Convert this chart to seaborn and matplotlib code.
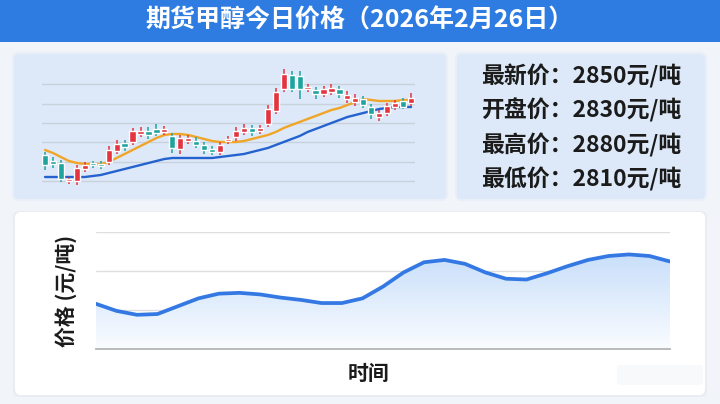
import numpy as np
import pandas as pd
import matplotlib.pyplot as plt
import seaborn as sns
from matplotlib.patches import FancyBboxPatch, Rectangle, Polygon

# 样式设置
sns.set_theme(style="white")
plt.rcParams['font.family'] = ['Noto Sans CJK SC', 'DejaVu Sans']

W, H = 720, 404

# =============================================================================
# 数据
# =============================================================================
titulo = "期货甲醇今日价格（2026年2月26日）"
info_labels = ["最新价", "开盘价", "最高价", "最低价"]
info_values = [2850, 2830, 2880, 2810]

# K线 (开, 收, 高, 低)
k_open = [2726, 2720, 2718, 2700, 2700, 2712, 2718, 2717, 2719, 2730,
          2738, 2739, 2747, 2750, 2752, 2749, 2745, 2732, 2740, 2740,
          2736, 2732, 2729, 2740, 2744, 2749, 2753, 2750, 2757, 2770,
          2792, 2806, 2805, 2792, 2791, 2787, 2789, 2792, 2782, 2779,
          2782, 2774, 2764, 2768, 2774, 2780, 2778]
k_close = [2716, 2717, 2702, 2702, 2713, 2716, 2716, 2715, 2731, 2737,
           2734, 2750, 2750, 2746, 2748, 2752, 2733, 2743, 2743, 2736,
           2731, 2729, 2736, 2742, 2750, 2753, 2749, 2753, 2772, 2789,
           2807, 2792, 2792, 2794, 2787, 2792, 2793, 2787, 2786, 2783,
           2776, 2767, 2768, 2775, 2778, 2774, 2783]
k_high = [2729, 2724, 2721, 2704, 2716, 2719, 2720, 2720, 2735, 2741,
          2741, 2753, 2754, 2754, 2757, 2755, 2748, 2746, 2746, 2744,
          2739, 2735, 2739, 2745, 2754, 2757, 2756, 2756, 2776, 2793,
          2812, 2810, 2810, 2797, 2794, 2795, 2797, 2795, 2790, 2787,
          2785, 2777, 2771, 2778, 2781, 2783, 2788]
k_low = [2711, 2713, 2699, 2697, 2696, 2709, 2713, 2712, 2716, 2727,
         2730, 2736, 2744, 2742, 2745, 2746, 2728, 2727, 2737, 2733,
         2727, 2726, 2726, 2737, 2740, 2746, 2745, 2747, 2754, 2767,
         2789, 2789, 2782, 2789, 2782, 2784, 2786, 2783, 2778, 2775,
         2773, 2762, 2760, 2765, 2771, 2772, 2775]

ma_curta = [2731, 2728, 2724, 2720, 2718, 2717, 2717, 2717, 2719, 2723,
            2727, 2731, 2735, 2739, 2743, 2746, 2747, 2747, 2746, 2744,
            2742, 2740, 2739, 2739, 2739, 2740, 2742, 2744, 2746, 2749,
            2753, 2756, 2759, 2762, 2765, 2768, 2771, 2773, 2776, 2779,
            2782, 2781, 2780, 2780, 2780, 2781, 2781]
ma_longa = [2704, 2704, 2704, 2704, 2704, 2704, 2705, 2706, 2708, 2710,
            2712, 2714, 2716, 2718, 2720, 2722, 2723, 2723, 2723, 2723,
            2723, 2723, 2724, 2725, 2726, 2727, 2729, 2731, 2733, 2736,
            2739, 2742, 2745, 2749, 2752, 2755, 2758, 2761, 2764, 2766,
            2768, 2770, 2772, 2773, 2774, 2774, 2774]

# 价格走势 (下方图)
trend_price = [2758, 2749, 2744, 2745, 2755, 2765, 2771, 2772, 2770, 2766,
               2763, 2759, 2759, 2765, 2780, 2798, 2811, 2814, 2809, 2798,
               2790, 2789, 2797, 2806, 2814, 2819, 2821, 2819, 2812]

df_k = pd.DataFrame({'idx': np.arange(1, len(k_open) + 1), 'open': k_open,
                     'close': k_close, 'high': k_high, 'low': k_low,
                     'ma5': ma_curta, 'ma20': ma_longa})
df_t = pd.DataFrame({'t': np.arange(len(trend_price)), 'preco': trend_price})

VERMELHO = '#e3343f'
VERDE = '#1fa39f'


def fx(px):
    return px / W


def fy(py):
    return 1 - py / H


fig = plt.figure(figsize=(W / 100, H / 100), dpi=100, facecolor='#f1f4f8')

# =============================================================================
# 背景: 标题栏 + 面板
# =============================================================================
bg = fig.add_axes([0, 0, 1, 1])
bg.set_xlim(0, W)
bg.set_ylim(H, 0)
bg.axis('off')
bg.add_patch(Rectangle((0, 0), W, 42, color='#2e7ce1', lw=0))
bg.add_patch(FancyBboxPatch((13, 53), 434, 147, boxstyle="round,pad=0,rounding_size=6",
                            fc='#dde9f8', ec='#e8eff8', lw=1.5))
bg.add_patch(FancyBboxPatch((456, 53), 250, 147, boxstyle="round,pad=0,rounding_size=6",
                            fc='#dde9f8', ec='#e8eff8', lw=1.5))
bg.add_patch(FancyBboxPatch((13, 211), 694, 186, boxstyle="round,pad=0,rounding_size=6",
                            fc='#e9edf2', ec='none'))
bg.add_patch(FancyBboxPatch((15, 212), 690, 183, boxstyle="round,pad=0,rounding_size=6",
                            fc='white', ec='none'))
bg.add_patch(FancyBboxPatch((617, 365), 86, 20, boxstyle="round,pad=0,rounding_size=4",
                            fc='#f8f9fa', ec='none'))

fig.text(0.5, fy(20), titulo, color='white', fontsize=18, fontweight='bold',
         ha='center', va='center')

# 右侧信息
for i, (lab, val) in enumerate(zip(info_labels, info_values)):
    fig.text(fx(481), fy(76 + 34.5 * i), f"{lab}：{val}元/吨", fontsize=16.5,
             color='#1b1b1b', ha='left', va='center', fontweight='bold')

# =============================================================================
# K线图
# =============================================================================
ax1 = fig.add_axes([fx(42), fy(190), fx(415 - 42), (190 - 60) / H])
ax1.patch.set_alpha(0)
ax1.set_xlim(0.62, 47.5)
ax1.set_ylim(2691, 2821)
ax1.set_yticks([2700, 2719, 2739, 2758, 2777, 2797])
ax1.grid(axis='y', color='#c9d2dc', lw=1)
ax1.grid(axis='x', visible=False)
ax1.tick_params(left=False, bottom=False, labelleft=False, labelbottom=False)
for s in ax1.spines.values():
    s.set_visible(False)

cores = [VERMELHO if c >= o else VERDE for o, c in zip(df_k['open'], df_k['close'])]
ax1.vlines(df_k['idx'], df_k['low'], df_k['high'], colors=cores, lw=1.1, zorder=3)
corpo_base = np.minimum(df_k['open'], df_k['close'])
corpo_alt = np.maximum(np.abs(df_k['close'] - df_k['open']), 2.5)
ax1.bar(df_k['idx'], corpo_alt, bottom=corpo_base, width=0.78, color=cores, zorder=4)

sns.lineplot(data=df_k, x='idx', y='ma20', ax=ax1, color='#2463cf', lw=1.7, zorder=2)
sns.lineplot(data=df_k, x='idx', y='ma5', ax=ax1, color='#f0a526', lw=1.7, zorder=2)
ax1.set_xlabel('')
ax1.set_ylabel('')

# =============================================================================
# 价格走势图
# =============================================================================
ax2 = fig.add_axes([fx(96), fy(349.3), fx(670 - 96), (349.3 - 231.7) / H])
ax2.patch.set_alpha(0)
ax2.set_xlim(0, len(trend_price) - 1)
ax2.set_ylim(2700, 2850)
ax2.set_yticks([2700, 2750, 2800, 2850])
ax2.grid(axis='y', color='#dedede', lw=1)
ax2.grid(axis='x', visible=False)
ax2.tick_params(left=False, bottom=False, labelleft=False, labelbottom=False)
for s in ['top', 'right', 'left']:
    ax2.spines[s].set_visible(False)
ax2.spines['bottom'].set_color('#b4b4b4')
ax2.spines['bottom'].set_linewidth(1.3)

# 渐变填充
grad = np.linspace(0, 1, 256)[:, None]
c_top = np.array([0.78, 0.87, 0.98])
c_bot = np.array([0.98, 0.99, 1.0])
img = (c_top[None, None, :] * (1 - grad[:, :, None]) + c_bot[None, None, :] * grad[:, :, None])
im = ax2.imshow(img, extent=[0, len(trend_price) - 1, 2700, 2825], aspect='auto',
                origin='upper', zorder=1)
verts = [(0, 2700)] + list(zip(df_t['t'], df_t['preco'])) + [(len(trend_price) - 1, 2700)]
poly = Polygon(verts, closed=True, fc='none', ec='none')
ax2.add_patch(poly)
im.set_clip_path(poly)

sns.lineplot(data=df_t, x='t', y='preco', ax=ax2, color='#3479e3', lw=2.7, zorder=3)
for ln in ax2.lines:
    ln.set_solid_joinstyle('round')
    ln.set_solid_capstyle('round')
ax2.set_xlabel('')
ax2.set_ylabel('')

fig.text(fx(66), fy(291), "价格 (元/吨)", rotation=90, fontsize=15, color='#1b1b1b',
         ha='center', va='center', fontweight='bold')
fig.text(fx(369), fy(373), "时间", fontsize=15, color='#1b1b1b', ha='center', va='center',
         fontweight='bold')

plt.savefig('out.png', dpi=100, facecolor=fig.get_facecolor())
